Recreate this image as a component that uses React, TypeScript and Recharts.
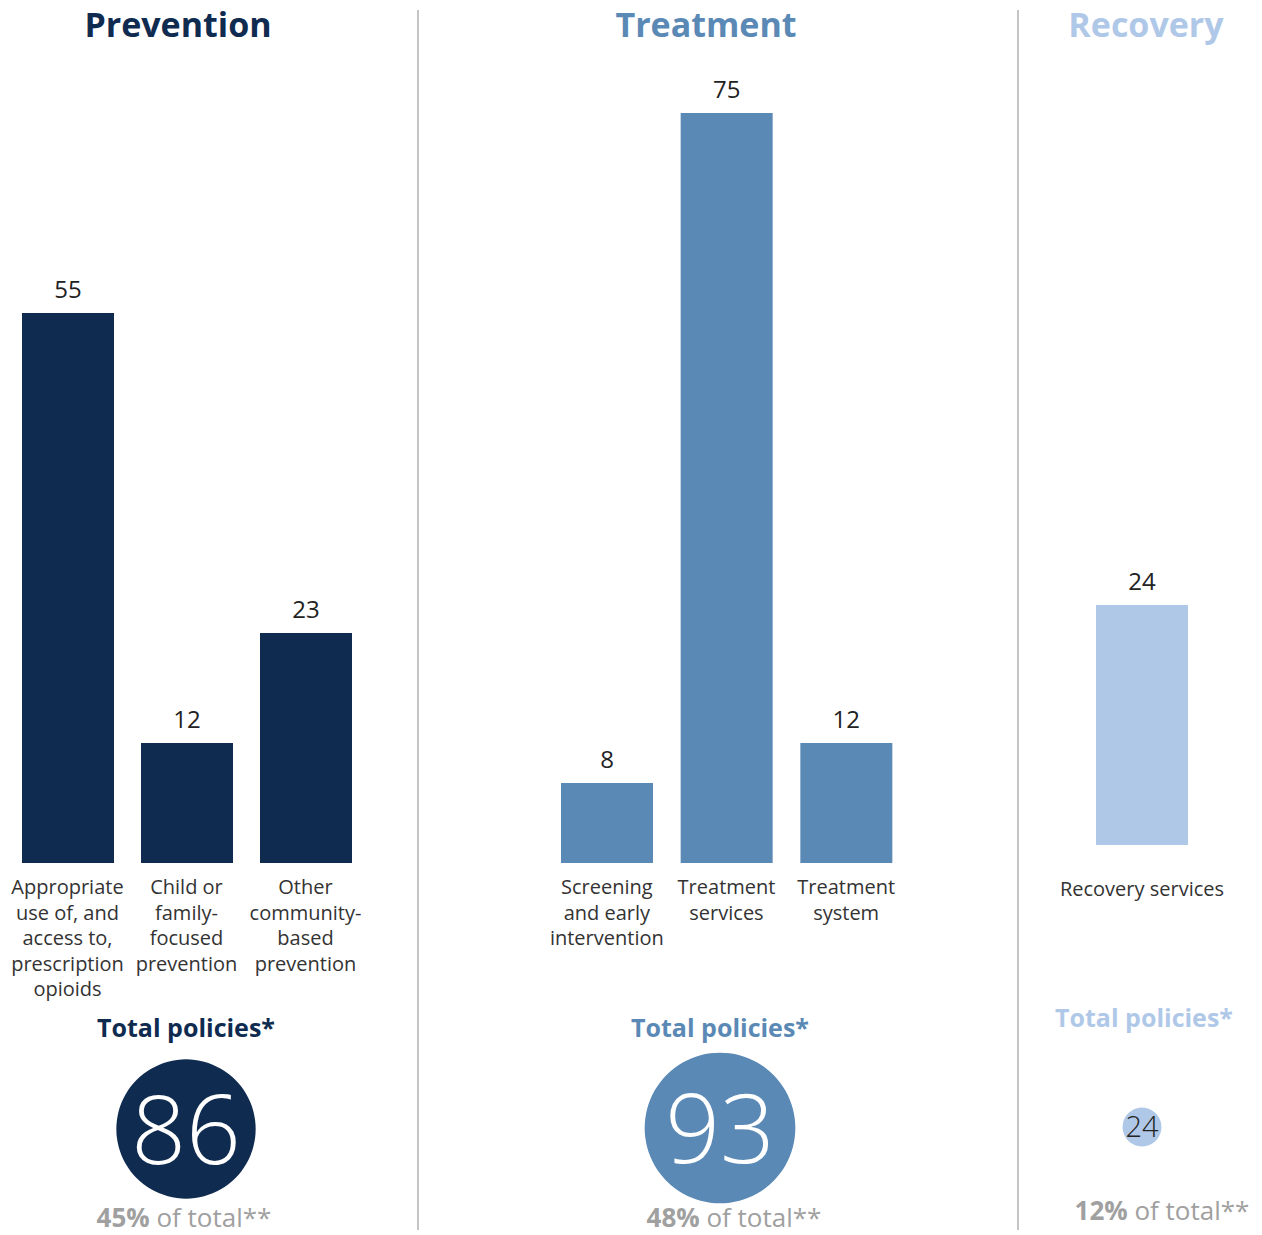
import React from "react";
import { BarChart, Bar, XAxis, YAxis, LabelList, PieChart, Pie } from "recharts";

const FONT = "'Open Sans', 'Liberation Sans', sans-serif";

const titles = ["Prevention", "Treatment", "Recovery"];
const colors = ["#0f2b50", "#5a89b5", "#b0c8e8"];

const preventionLabels = [
  ["Appropriate", "use of, and", "access to,", "prescription", "opioids"],
  ["Child or", "family-", "focused", "prevention"],
  ["Other", "community-", "based", "prevention"],
];
const preventionValues = [55, 12, 23];

const treatmentLabels = [
  ["Screening", "and early", "intervention"],
  ["Treatment", "services"],
  ["Treatment", "system"],
];
const treatmentValues = [8, 75, 12];

const recoveryLabels = [["Recovery services"]];
const recoveryValues = [24];

const totals = [86, 93, 24];
const shares = ["45%", "48%", "12%"];

const toRows = (labels: string[][], values: number[]) =>
  labels.map((l, i) => ({ name: l.join(" "), lines: l, value: values[i] }));

const panels = [
  { data: toRows(preventionLabels, preventionValues), left: 0, width: 418, ml: 8, mr: 53, top: 63, axisH: 147, tickDy: 31 },
  { data: toRows(treatmentLabels, treatmentValues), left: 418, width: 600, ml: 129, mr: 112, top: 63, axisH: 147, tickDy: 31 },
  { data: toRows(recoveryLabels, recoveryValues), left: 1018, width: 244, ml: 64, mr: 60, top: 45, axisH: 165, tickDy: 51 },
];

// circle centres and text anchors for the totals block
const totalPos = [
  { cx: 186, cy: 1129, headY: 1037, headX: 186, pctX: 184, pctY: 1227 },
  { cx: 720, cy: 1128, headY: 1037, headX: 720, pctX: 734, pctY: 1227 },
  { cx: 1142, cy: 1127, headY: 1027, headX: 1144, pctX: 1162, pctY: 1220 },
];
const titleX = [178, 706, 1146];

function WrapTick(props: any) {
  const { x, y, index, rows, dy } = props;
  const lines: string[] = rows[index]?.lines ?? [];
  return (
    <text x={x} y={y} textAnchor="middle" fill="#333" fontSize={20} fontFamily={FONT}>
      {lines.map((l, i) => (
        <tspan key={i} x={x} y={y + dy + i * 25.5}>
          {l}
        </tspan>
      ))}
    </text>
  );
}

export default function App() {
  return (
    <div style={{ position: "absolute", left: 0, top: 0, width: 1262, height: 1235, background: "#fff", fontFamily: FONT }}>
      {panels.map((p, k) => (
        <div key={k} style={{ position: "absolute", left: p.left, top: 0 }}>
          <BarChart
            width={p.width}
            height={1010}
            data={p.data}
            margin={{ top: p.top, right: p.mr, bottom: 0, left: p.ml }}
          >
            <XAxis
              dataKey="name"
              axisLine={false}
              tickLine={false}
              tickSize={0}
              tickMargin={0}
              height={p.axisH}
              interval={0}
              tick={<WrapTick rows={p.data} dy={p.tickDy} />}
            />
            <YAxis hide domain={[0, 80]} />
            <Bar dataKey="value" fill={colors[k]} barSize={92} isAnimationActive={false}>
              <LabelList dataKey="value" position="top" offset={15} fill="#222" fontSize={24} fontFamily={FONT} />
            </Bar>
          </BarChart>
        </div>
      ))}

      {totals.map((t, k) => (
        <div
          key={"pie" + k}
          style={{ position: "absolute", left: totalPos[k].cx - 80, top: totalPos[k].cy - 80 }}
        >
          <PieChart width={160} height={160} margin={{ top: 0, right: 0, bottom: 0, left: 0 }}>
            <Pie
              data={[{ name: titles[k], value: t }]}
              dataKey="value"
              cx="50%"
              cy="50%"
              innerRadius={0}
              outerRadius={t * 0.81}
              startAngle={90}
              endAngle={-270}
              fill={colors[k]}
              stroke="none"
              isAnimationActive={false}
            />
          </PieChart>
        </div>
      ))}

      <svg width={1262} height={1235} style={{ position: "absolute", left: 0, top: 0, pointerEvents: "none" }}>
        <line x1={418} y1={10} x2={418} y2={1230} stroke="#b0b0b0" strokeWidth={1.5} />
        <line x1={1018} y1={10} x2={1018} y2={1230} stroke="#b0b0b0" strokeWidth={1.5} />
        {titles.map((t, k) => (
          <text key={"t" + k} x={titleX[k]} y={37} textAnchor="middle" fontSize={34} fontWeight={700} fill={colors[k]} fontFamily={FONT}>
            {t}
          </text>
        ))}
        {totals.map((t, k) => (
          <g key={"g" + k}>
            <text x={totalPos[k].headX} y={totalPos[k].headY} textAnchor="middle" fontSize={25} fontWeight={700} fill={colors[k]} fontFamily={FONT}>
              Total policies*
            </text>
            <text
              x={totalPos[k].cx}
              y={k === 2 ? totalPos[k].cy + 10 : totalPos[k].cy + 35}
              textAnchor="middle"
              fontSize={k === 2 ? 29 : 96}
              fontWeight={300}
              fill={k === 2 ? "#222" : "#fff"}
              fontFamily={FONT}
            >
              {t}
            </text>
            <text x={totalPos[k].pctX} y={totalPos[k].pctY} textAnchor="middle" fontSize={26} fill="#a0a0a0" fontFamily={FONT}>
              <tspan fontWeight={700}>{shares[k]}</tspan>
              <tspan> of total**</tspan>
            </text>
          </g>
        ))}
      </svg>
    </div>
  );
}
